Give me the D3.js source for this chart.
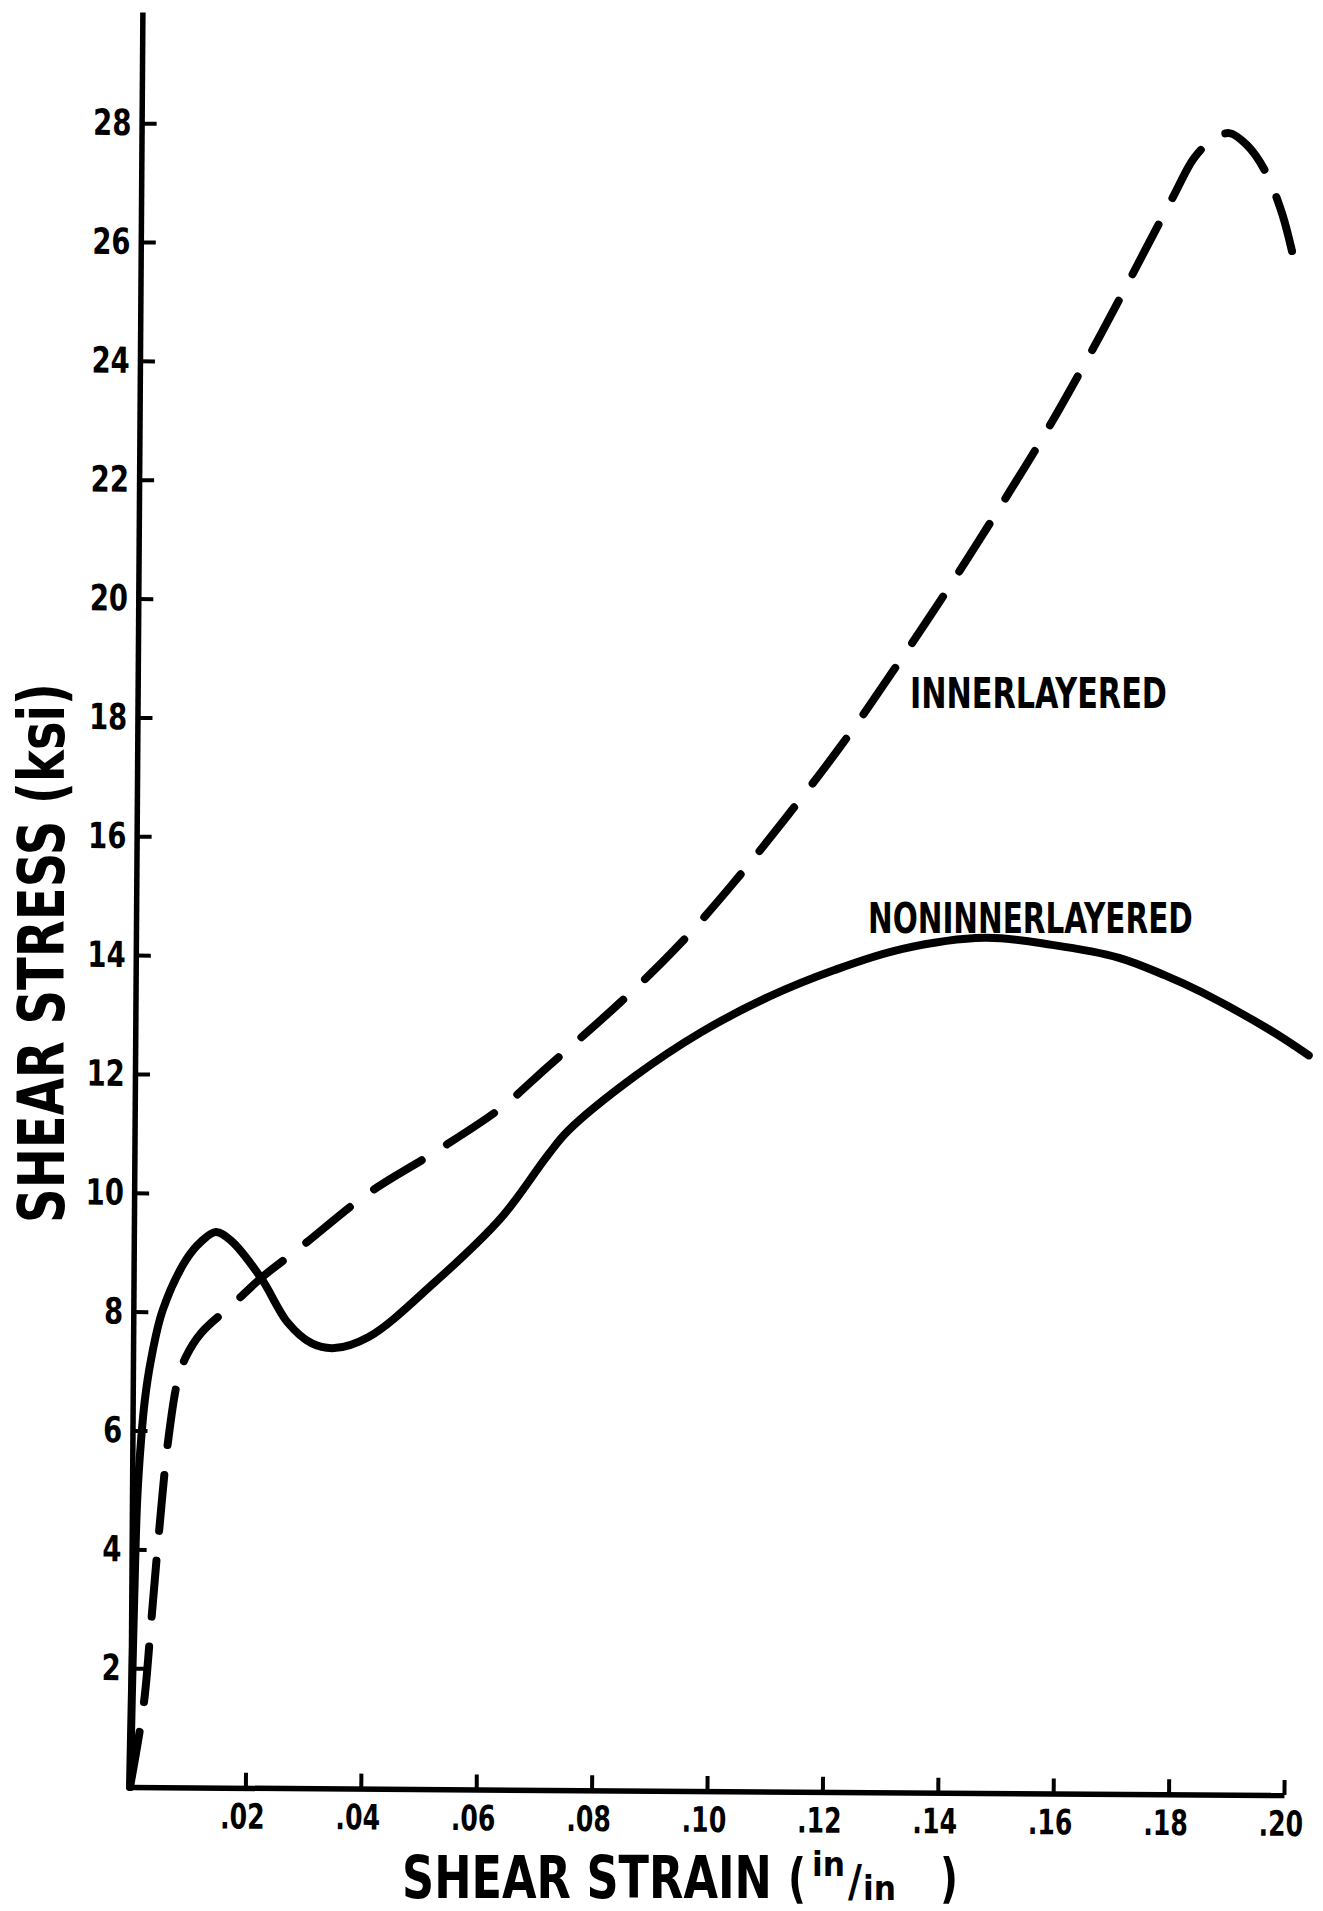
<!DOCTYPE html>
<html><head><meta charset="utf-8">
<script src="https://cdn.jsdelivr.net/npm/d3@7"></script>
<style>
body{margin:0;background:#fff}
svg{display:block}
text{font-family:"DejaVu Sans Condensed","Liberation Sans Narrow","Roboto Condensed","DejaVu Sans",sans-serif;font-weight:bold;fill:#000}
</style>
</head><body>
<svg id="chart" width="1323" height="1911"></svg>
<script>
// ---- data ----
const strainTicks = [0.02,0.04,0.06,0.08,0.10,0.12,0.14,0.16,0.18,0.20];
const stressTicks = [2,4,6,8,10,12,14,16,18,20,22,24,26,28];

const nonInnerStrain = [0,0.0002,0.0005,0.0009,0.0015,0.0021,0.0031,0.0051,0.0091,0.0116,0.0142,0.0168,0.0221,0.0268,0.0309,0.0349,0.0408,0.0521,0.0637,0.0717,0.0752,0.0865,0.0981,0.1097,0.1211,0.1327,0.1471,0.1588,0.1704,0.1784,0.1848,0.1965,0.2034];
const nonInnerStress = [0,1.46,3.15,4.83,5.84,6.51,7.18,8.03,8.88,9.18,9.35,9.21,8.58,7.83,7.49,7.41,7.60,8.52,9.63,10.69,11.10,12.01,12.77,13.37,13.83,14.19,14.39,14.28,14.07,13.78,13.50,12.88,12.45];

const innerStrain = [0,0.0023,0.0034,0.0047,0.0062,0.0078,0.0092,0.0118,0.0174,0.0221,0.0290,0.0406,0.0519,0.0636,0.0713,0.0839,0.0937,0.1032,0.1122,0.1220,0.1318,0.1404,0.1491,0.1573,0.1666,0.1738,0.1790,0.1824,0.1855,0.1885,0.1916,0.1947,0.1978,0.2005];
const innerStress = [0,1.41,2.69,4.27,5.84,6.86,7.25,7.65,8.15,8.58,9.11,10.02,10.71,11.48,12.15,13.25,14.19,15.25,16.35,17.61,19.00,20.27,21.62,22.94,24.58,25.93,26.91,27.53,27.84,27.96,27.76,27.34,26.60,25.58];

const seriesLabels = ["INNERLAYERED","NONINNERLAYERED"];
const yTitle = "SHEAR STRESS (ksi)";
const xTitle = "SHEAR STRAIN";
const xUnitParts = ["(", "in", "/", "in", ")"];

// ---- layout ----
const W = 1323, H = 1911;
const svg = d3.select("#chart");
svg.append("rect").attr("width", W).attr("height", H).attr("fill", "#fff");

const x = d3.scaleLinear().domain([0, 0.2]).range([130, 1284]);
const y = d3.scaleLinear().domain([0, 29.87]).range([1787, 12]);

// the scanned original is turned very slightly clockwise
const g = svg.append("g").attr("transform", `rotate(0.4,${x(0)},${y(0)})`);

// axes
const yAxis = d3.axisLeft(y).tickValues(stressTicks).tickFormat(d => String(d))
  .tickSize(-15).tickSizeOuter(0).tickPadding(12);
const yG = g.append("g").attr("transform", `translate(${x(0)},0)`).call(yAxis);

const xAxis = d3.axisBottom(x).tickValues(strainTicks)
  .tickFormat(d => d3.format(".2f")(d).replace(/^0/, ""))
  .tickSize(-15).tickSizeOuter(0).tickPadding(16);
const xG = g.append("g").attr("transform", `translate(0,${y(0)})`).call(xAxis);

[yG, xG].forEach(a => {
  a.attr("font-family", null).attr("font-size", null);
  a.select(".domain").attr("stroke", "#000").attr("stroke-width", 5.5);
  a.selectAll(".tick line").attr("stroke", "#000").attr("stroke-width", 4);
  a.selectAll(".tick text").attr("fill", "#000");
});
yG.selectAll(".tick text").attr("font-size", 36).attr("transform", "scale(0.85,1)");
xG.selectAll(".tick text").attr("font-size", 35).attr("transform", "scale(0.8,1)").attr("dx", "-0.12em");

// curves
const line = d3.line().x(d => x(d[0])).y(d => y(d[1])).curve(d3.curveCatmullRom.alpha(0.5));

g.append("path").datum(d3.zip(nonInnerStrain, nonInnerStress))
  .attr("d", line).attr("fill", "none").attr("stroke", "#000")
  .attr("stroke-width", 8).attr("stroke-linecap", "round").attr("stroke-linejoin", "round");

g.append("path").datum(d3.zip(innerStrain, innerStress))
  .attr("d", line).attr("fill", "none").attr("stroke", "#000")
  .attr("stroke-width", 8).attr("stroke-linecap", "round")
  .attr("stroke-dasharray", "56,30");

// text helper: place text and squeeze it horizontally to a target width
function fitText(str, px, py, size, width, opts = {}) {
  const t = svg.append("text").attr("font-size", size).text(str);
  if (opts.anchor) t.attr("text-anchor", opts.anchor);
  const n = t.node().getComputedTextLength();
  const k = width ? width / n : 1;
  t.attr("transform", `translate(${px},${py})${opts.rotate ? " rotate(" + opts.rotate + ")" : ""} scale(${k},1)`);
  return t;
}

// series labels
fitText(seriesLabels[0], 910, 708, 42, 257);
fitText(seriesLabels[1], 868, 933, 42, 325);

// y title
fitText(yTitle, 64, 953, 64, 540, {anchor: "middle", rotate: -90});

// x title with in/in unit
fitText(xTitle, 402, 1898, 58, 370);
fitText(xUnitParts[0], 788, 1897, 54, 18);
fitText(xUnitParts[1], 812, 1876, 34, 33);
fitText(xUnitParts[2], 848, 1897, 44, 14);
fitText(xUnitParts[3], 863, 1900, 34, 33);
fitText(xUnitParts[4], 940, 1897, 54, 18);
</script>
</body></html>
